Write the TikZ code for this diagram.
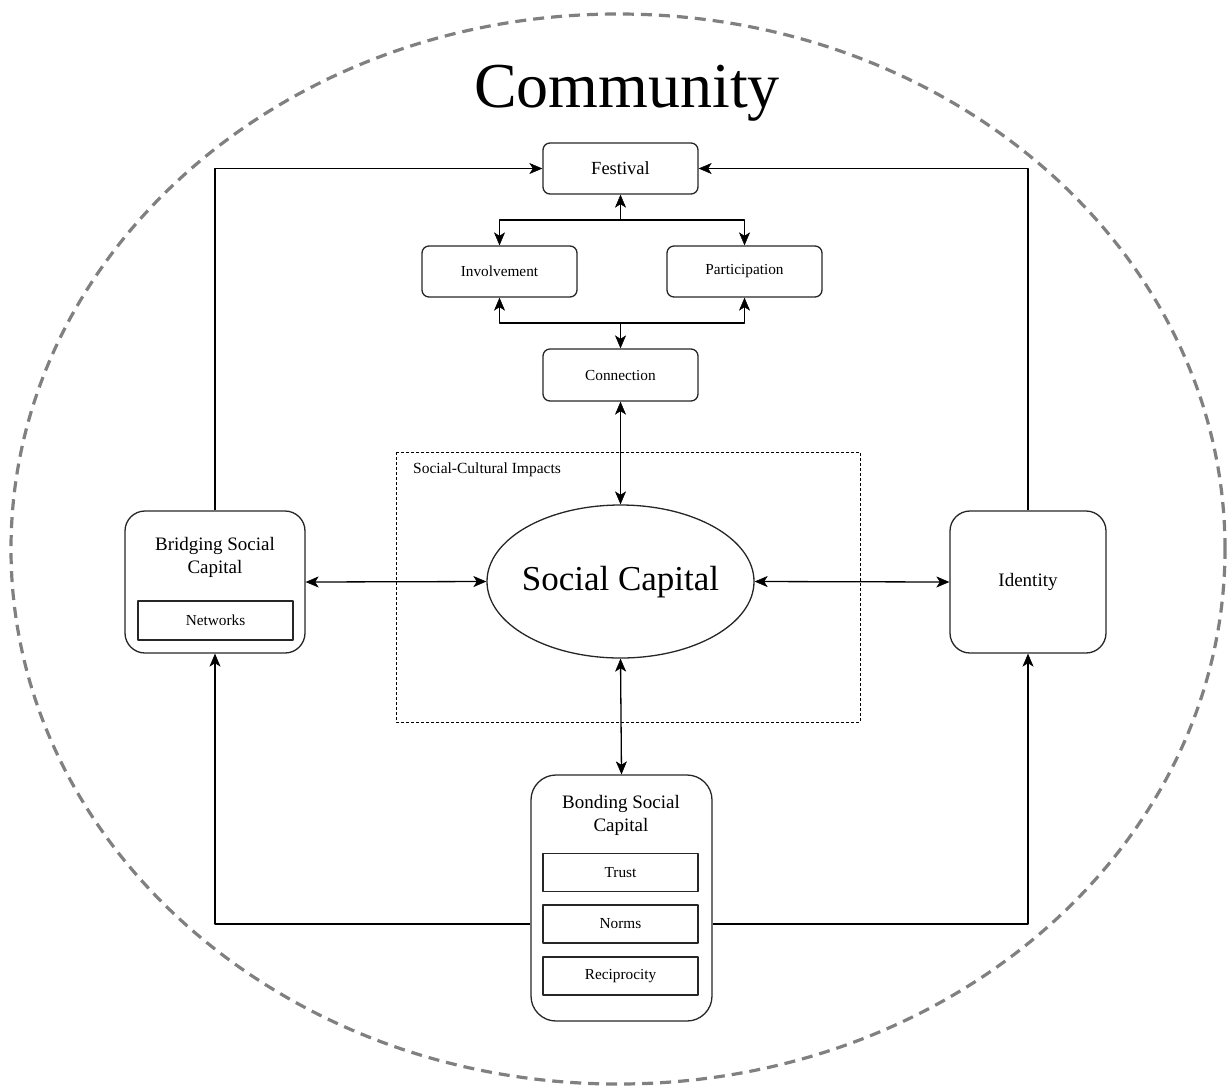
\documentclass[tikz,border=0pt]{standalone}
\usepackage{fontspec}
\setmainfont{Liberation Serif}
\usetikzlibrary{arrows.meta,shapes.geometric}
\begin{document}
\begin{tikzpicture}[x=1pt,y=-1pt,
  line join=round,
  box/.style={draw=black!85, line width=1.3pt, rounded corners=7pt, minimum width=155pt, minimum height=51pt, inner sep=0pt, font=\fontsize{15.3}{18}\selectfont},
  bigbox/.style={draw=black!85, line width=1.3pt, rounded corners=20pt, inner sep=0pt},
  subbox/.style={draw=black!85, line width=1.3pt, minimum width=155pt, minimum height=38pt, inner sep=0pt, font=\fontsize{15.3}{18}\selectfont},
  bigtxt/.style={align=center, inner sep=0pt, font=\fontsize{19}{23}\selectfont},
  tip/.tip={Stealth[length=13pt,width=11pt,inset=3.5pt,line width=0.5pt]},
  arr/.style={line width=1.3pt, -tip},
  darr/.style={line width=1.3pt, tip-tip}
]
\useasboundingbox (0,0) rectangle (1228,1088);
% community boundary
\draw[black!50, line width=3.2pt, dash pattern=on 11pt off 7pt] (618,549) ellipse [x radius=607pt, y radius=535pt];
\node[font=\fontsize{64}{70}\selectfont, inner sep=0pt] (title) at (627,93) {Community};

% social-cultural impacts region
\draw[line width=0.8pt, dash pattern=on 3pt off 2pt] (396,452) rectangle (860,722);
\node[anchor=west, inner sep=0pt, font=\fontsize{15.5}{18}\selectfont] (sci) at (413,470) {Social-Cultural Impacts};

% top chain
\node[box, font=\fontsize{18.5}{22}\selectfont] (fest) at (620.5,168.5) {Festival};
\node[box] (inv) at (499.5,271.5) {Involvement};
\node[box] (part) at (744.5,271.5) {Participation};
\node[box, minimum height=52pt] (conn) at (620.5,375) {Connection};

% social capital
\node[draw=black!85, line width=1.3pt, ellipse, minimum width=267pt, minimum height=153pt, inner sep=0pt] (sc) at (620.5,581.5) {};
\node[inner sep=0pt, font=\fontsize{35}{40}\selectfont] (sctxt) at (620.5,582) {Social Capital};

% bridging
\node[bigbox, minimum width=180pt, minimum height=142pt] (bridge) at (215,582) {};
\node[bigtxt] (bridget) at (215,557.5) {Bridging Social\\Capital};
\node[subbox, minimum width=155pt, minimum height=39pt] (net) at (215.5,620.5) {Networks};

% identity
\node[bigbox, minimum width=156pt, minimum height=142pt, font=\fontsize{19}{23}\selectfont] (ident) at (1028,582) {Identity};

% bonding
\node[bigbox, rounded corners=25pt, minimum width=181pt, minimum height=246pt] (bond) at (621.5,898) {};
\node[bigtxt] (bondt) at (621,815) {Bonding Social\\Capital};
\node[subbox] (trust) at (620.5,872.5) {Trust};
\node[subbox] (norms) at (620.5,924) {Norms};
\node[subbox] (recip) at (620.5,976) {Reciprocity};

% connectors
\coordinate (j1) at (620.5,220);
\coordinate (j2) at (620.5,323);
\draw[arr] (j1) -- (fest.south);
\draw[arr] (j1) -| (inv.north);
\draw[arr] (j1) -| (part.north);
\draw[arr] (j2) -| (inv.south);
\draw[arr] (j2) -| (part.south);
\draw[arr] (j2) -- (conn.north);
\draw[darr] (conn.south) -- (sc.north);
\draw[arr] (bridge.north) |- (fest.west);
\draw[arr] (ident.north) |- (fest.east);
\draw[darr] (bridge.east) -- (sc.west);
\draw[darr] (sc.east) -- (ident.west);
\draw[darr] (sc.south) -- (bond.north);
\draw[arr] (bond.west |- norms.west) -| (bridge.south);
\draw[arr] (bond.east |- norms.east) -| (ident.south);
\end{tikzpicture}
\end{document}
